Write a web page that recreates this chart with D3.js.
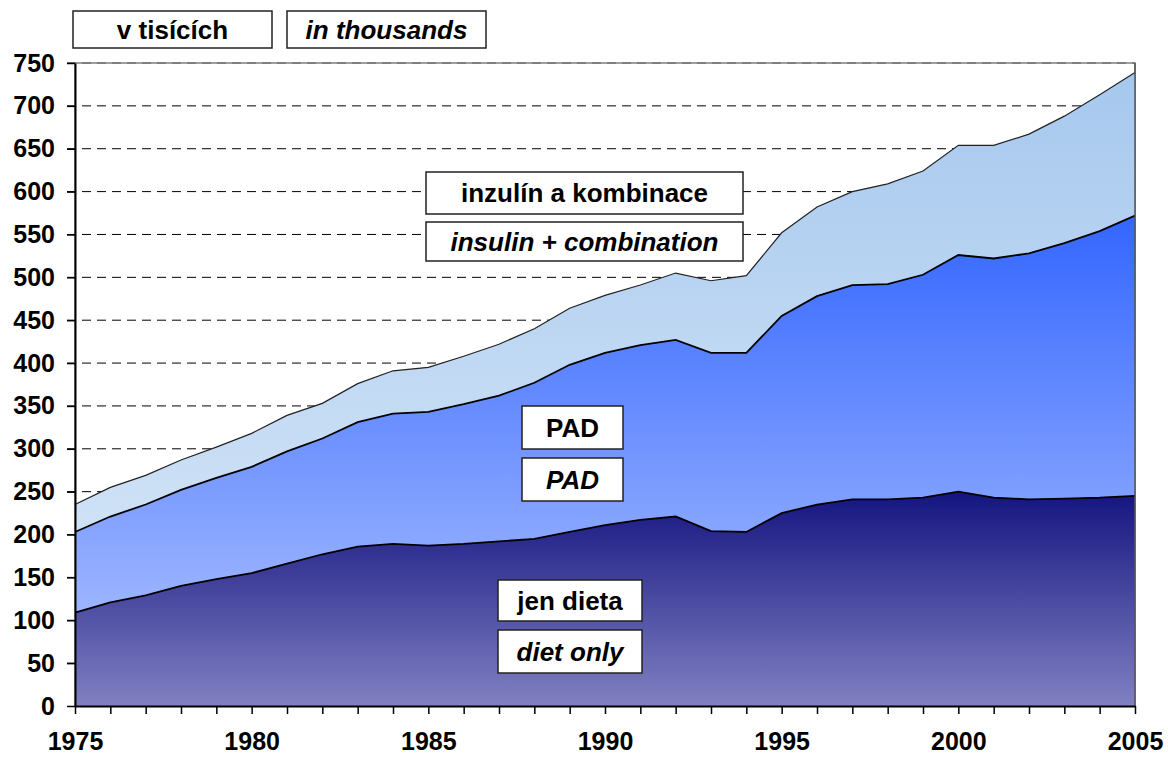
<!DOCTYPE html>
<html>
<head>
<meta charset="utf-8">
<script src="https://cdnjs.cloudflare.com/ajax/libs/d3/7.8.5/d3.min.js"></script>
<style>
  body { margin: 0; background: #fff; }
  text { font-family: Arial, "Liberation Sans", sans-serif; font-weight: bold; }
</style>
</head>
<body>
<div id="chart-container"></div>
<script>
// years and the three stacked groups (in thousands)
const years = d3.range(1975, 2006);
const dietOnly = [109, 121, 129, 140, 148, 155, 166, 177, 186, 189, 187, 189, 192, 195, 203, 211, 217, 221, 204, 203, 225, 235, 241, 241, 243, 250, 243, 241, 242, 243, 245];
const pad = [94, 100, 106, 112, 118, 124, 131, 135, 145, 152, 156, 163, 170, 182, 195, 201, 204, 206, 208, 209, 230, 243, 250, 251, 260, 276, 279, 287, 298, 311, 327];
const insulin = [32, 34, 34, 35, 36, 39, 42, 41, 45, 50, 52, 56, 60, 63, 66, 67, 70, 78, 84, 90, 97, 104, 109, 117, 121, 128, 132, 139, 148, 159, 167];
const seriesKeys = ["diet", "pad", "insulin"];
const yTicks = d3.range(0, 751, 50);
const xTickLabels = [1975, 1980, 1985, 1990, 1995, 2000, 2005];

document.addEventListener('DOMContentLoaded', function(){
  drawChart();
});

function drawChart(){
  let svgWidth = 1168;
  let svgHeight = 758;
  let left = 75, right = 1135, top = 63, bottom = 706;

  let svg = d3.select('#chart-container')
    .append('svg')
    .attr('width', svgWidth)
    .attr('height', svgHeight);

  let table = years.map((y, i) => ({year: y, diet: dietOnly[i], pad: pad[i], insulin: insulin[i]}));
  let stacked = d3.stack().keys(seriesKeys)(table);

  let xScale = d3.scaleLinear().domain([1975, 2005]).range([left, right]);
  let yScale = d3.scaleLinear().domain([0, 750]).range([bottom, top]);

  //gradients
  let defs = svg.append("defs");
  let grads = [
    {id: "g-diet", y1: yScale(d3.max(stacked[0], d => d[1])), y2: yScale(0), c1: "#141480", c2: "#8080c2"},
    {id: "g-pad", y1: yScale(d3.max(stacked[1], d => d[1])), y2: yScale(d3.min(stacked[1], d => d[0])), c1: "#3366ff", c2: "#9db5ff"},
    {id: "g-ins", y1: yScale(d3.max(stacked[2], d => d[1])), y2: yScale(d3.min(stacked[2], d => d[0])), c1: "#a6c8ee", c2: "#cfe2f6"}
  ];
  grads.forEach(g => {
    let lg = defs.append("linearGradient")
      .attr("id", g.id)
      .attr("gradientUnits", "userSpaceOnUse")
      .attr("x1", 0).attr("x2", 0)
      .attr("y1", g.y1).attr("y2", g.y2);
    lg.append("stop").attr("offset", 0).attr("stop-color", g.c1);
    lg.append("stop").attr("offset", 1).attr("stop-color", g.c2);
  });

  //gridlines
  svg.append("g")
    .selectAll("line")
    .data(yTicks.filter(t => t > 0))
    .enter()
    .append("line")
    .attr("x1", left - 8)
    .attr("x2", right)
    .attr("y1", d => yScale(d))
    .attr("y2", d => yScale(d))
    .attr("stroke", "#000")
    .attr("stroke-width", 1)
    .attr("stroke-dasharray", "9,6");

  //plot border
  svg.append("rect")
    .attr("x", left).attr("y", top)
    .attr("width", right - left).attr("height", bottom - top)
    .attr("fill", "none")
    .attr("stroke", "#808080")
    .attr("stroke-width", 1.5);

  //areas
  let area = d3.area()
    .x(d => xScale(d.data.year))
    .y0(d => yScale(d[0]))
    .y1(d => yScale(d[1]));
  let fills = ["url(#g-diet)", "url(#g-pad)", "url(#g-ins)"];

  svg.append("g")
    .selectAll("path")
    .data(stacked)
    .enter()
    .append("path")
    .attr("d", area)
    .attr("fill", (d, i) => fills[i]);

  //top outlines of each layer
  let line = d3.line()
    .x(d => xScale(d.data.year))
    .y(d => yScale(d[1]));
  svg.append("g")
    .selectAll("path")
    .data(stacked)
    .enter()
    .append("path")
    .attr("d", line)
    .attr("fill", "none")
    .attr("stroke", (d, i) => i == 2 ? "#222" : "#000")
    .attr("stroke-width", (d, i) => i == 2 ? 1.2 : 1.8);

  //right edge
  svg.append("line")
    .attr("x1", right).attr("x2", right)
    .attr("y1", top).attr("y2", bottom)
    .attr("stroke", "#555").attr("stroke-width", 1.5);

  //x axis
  const xAxis = d3.axisBottom(xScale)
    .tickValues(years)
    .tickSize(8)
    .tickSizeOuter(0)
    .tickFormat(d => xTickLabels.includes(d) ? d : "");
  let gx = svg.append("g")
    .attr("transform", "translate(0," + bottom + ")")
    .call(xAxis);
  gx.selectAll(".tick text")
    .attr("y", 26)
    .attr("dy", "0.71em")
    .style("font-size", "25px")
    .style("font-family", "Arial, 'Liberation Sans', sans-serif")
    .style("font-weight", "bold")
    .attr("fill", "#000");
  gx.select(".domain").attr("stroke", "#000").attr("stroke-width", 2);
  gx.selectAll(".tick line").attr("stroke", "#000").attr("stroke-width", 1.5);

  //y axis
  const yAxis = d3.axisLeft(yScale)
    .tickValues(yTicks)
    .tickSize(8)
    .tickSizeOuter(0);
  let gy = svg.append("g")
    .attr("transform", "translate(" + left + ",0)")
    .call(yAxis);
  gy.selectAll(".tick text")
    .attr("x", -20)
    .style("font-size", "25px")
    .style("font-family", "Arial, 'Liberation Sans', sans-serif")
    .style("font-weight", "bold")
    .attr("fill", "#000");
  gy.select(".domain").attr("stroke", "#000").attr("stroke-width", 2);
  gy.selectAll(".tick line").attr("stroke", "#000").attr("stroke-width", 1.5);

  //label boxes
  let boxes = [
    {text: "v tisících", x: 73, y: 11, w: 199, h: 37, italic: false},
    {text: "in thousands", x: 287, y: 11, w: 199, h: 37, italic: true},
    {text: "inzulín a kombinace", x: 426, y: 172, w: 317, h: 42, italic: false},
    {text: "insulin + combination", x: 426, y: 222, w: 317, h: 39, italic: true},
    {text: "PAD", x: 522, y: 406, w: 101, h: 43, italic: false},
    {text: "PAD", x: 522, y: 458, w: 101, h: 43, italic: true},
    {text: "jen dieta", x: 498, y: 580, w: 144, h: 41, italic: false},
    {text: "diet only", x: 498, y: 630, w: 144, h: 43, italic: true}
  ];
  let bg = svg.append("g")
    .selectAll("g")
    .data(boxes)
    .enter()
    .append("g");
  bg.append("rect")
    .attr("x", d => d.x)
    .attr("y", d => d.y)
    .attr("width", d => d.w)
    .attr("height", d => d.h)
    .attr("fill", "#fff")
    .attr("stroke", "#222")
    .attr("stroke-width", 1.5);
  bg.append("text")
    .attr("x", d => d.x + d.w / 2)
    .attr("y", d => d.y + d.h / 2)
    .attr("dy", "0.36em")
    .attr("text-anchor", "middle")
    .style("font-size", "26px")
    .style("font-style", d => d.italic ? "italic" : "normal")
    .text(d => d.text);
}
</script>
</body>
</html>
